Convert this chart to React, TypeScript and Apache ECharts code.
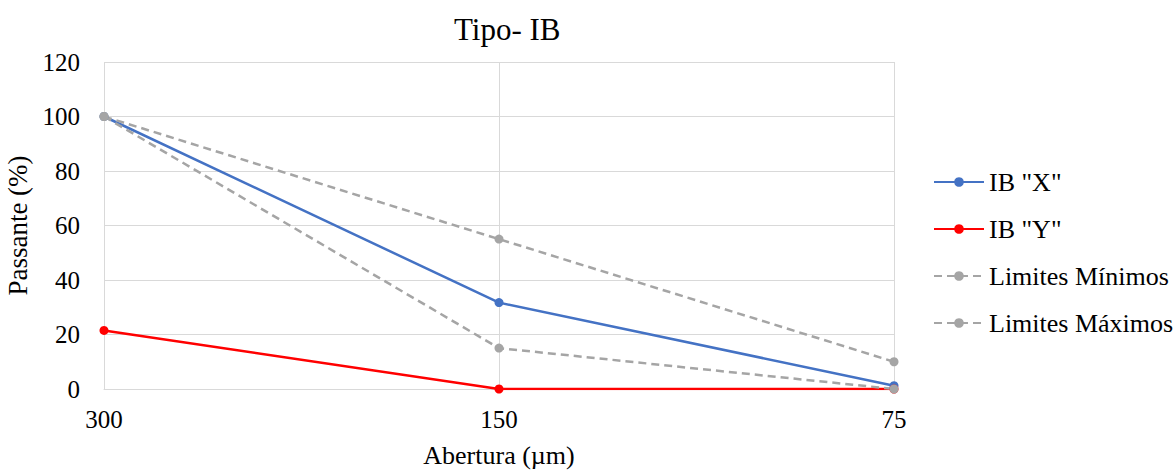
import React, { useEffect, useRef } from "react";
import * as echarts from "echarts";

// Sieve openings (µm) and passing percentages
const aberturas = ["300", "150", "75"];
const ibX = [100, 31.7, 1.2];
const ibY = [21.5, 0, 0];
const limitesMinimos = [100, 15, 0];
const limitesMaximos = [100, 55, 10];
const yTicks = { min: 0, max: 120, interval: 20 };

const SERIF = "Liberation Serif";

export default function App() {
  const ref = useRef<HTMLDivElement>(null);

  useEffect(() => {
    document.body.style.margin = "0";
    if (!ref.current) return;
    const chart = echarts.init(ref.current, undefined, { renderer: "svg" });

    const mk = (name: string, data: number[], color: string, dashed: boolean) => ({
      name,
      type: "line",
      data,
      symbol: "circle",
      symbolSize: 9,
      itemStyle: { color },
      lineStyle: { color, width: 2.5, type: dashed ? [8, 5] : "solid" },
    });

    chart.setOption({
      animation: false,
      title: {
        text: "Tipo- IB",
        left: 449,
        top: 9,
        textStyle: { fontFamily: SERIF, fontSize: 31, fontWeight: 400, color: "#000" },
      },
      grid: { left: 104, right: 282, top: 62, bottom: 82, outerBoundsMode: "none", containLabel: false },
      legend: {
        orient: "vertical",
        left: 928,
        top: 164,
        itemWidth: 50,
        itemHeight: 12,
        itemGap: 21,
        textStyle: { fontFamily: SERIF, fontSize: 26, color: "#000" },
        data: ['IB "X"', 'IB "Y"', "Limites Mínimos", "Limites Máximos"],
      },
      xAxis: {
        type: "category",
        data: aberturas,
        boundaryGap: false,
        name: "Abertura (µm)",
        nameLocation: "middle",
        nameGap: 52,
        nameTextStyle: { fontFamily: SERIF, fontSize: 26, color: "#000", lineHeight: 28 },
        axisLine: { show: true, lineStyle: { color: "#d9d9d9", width: 1 } },
        axisTick: { show: false },
        axisLabel: { fontFamily: SERIF, fontSize: 25, color: "#000", margin: 18 },
        splitLine: { show: true, lineStyle: { color: "#d9d9d9", width: 1 } },
      },
      yAxis: {
        type: "value",
        min: yTicks.min,
        max: yTicks.max,
        interval: yTicks.interval,
        name: "Passante (%)",
        nameLocation: "middle",
        nameGap: 69,
        nameTextStyle: { fontFamily: SERIF, fontSize: 27, color: "#000" },
        axisLine: { show: false },
        axisTick: { show: false },
        axisLabel: { fontFamily: SERIF, fontSize: 25, color: "#000", margin: 24 },
        splitLine: { show: true, lineStyle: { color: "#d9d9d9", width: 1 } },
      },
      series: [
        mk('IB "X"', ibX, "#4472C4", false),
        mk('IB "Y"', ibY, "#FF0000", false),
        mk("Limites Mínimos", limitesMinimos, "#A5A5A5", true),
        mk("Limites Máximos", limitesMaximos, "#A5A5A5", true),
      ],
    });

    return () => chart.dispose();
  }, []);

  return <div ref={ref} style={{ width: 1176, height: 471 }} />;
}
